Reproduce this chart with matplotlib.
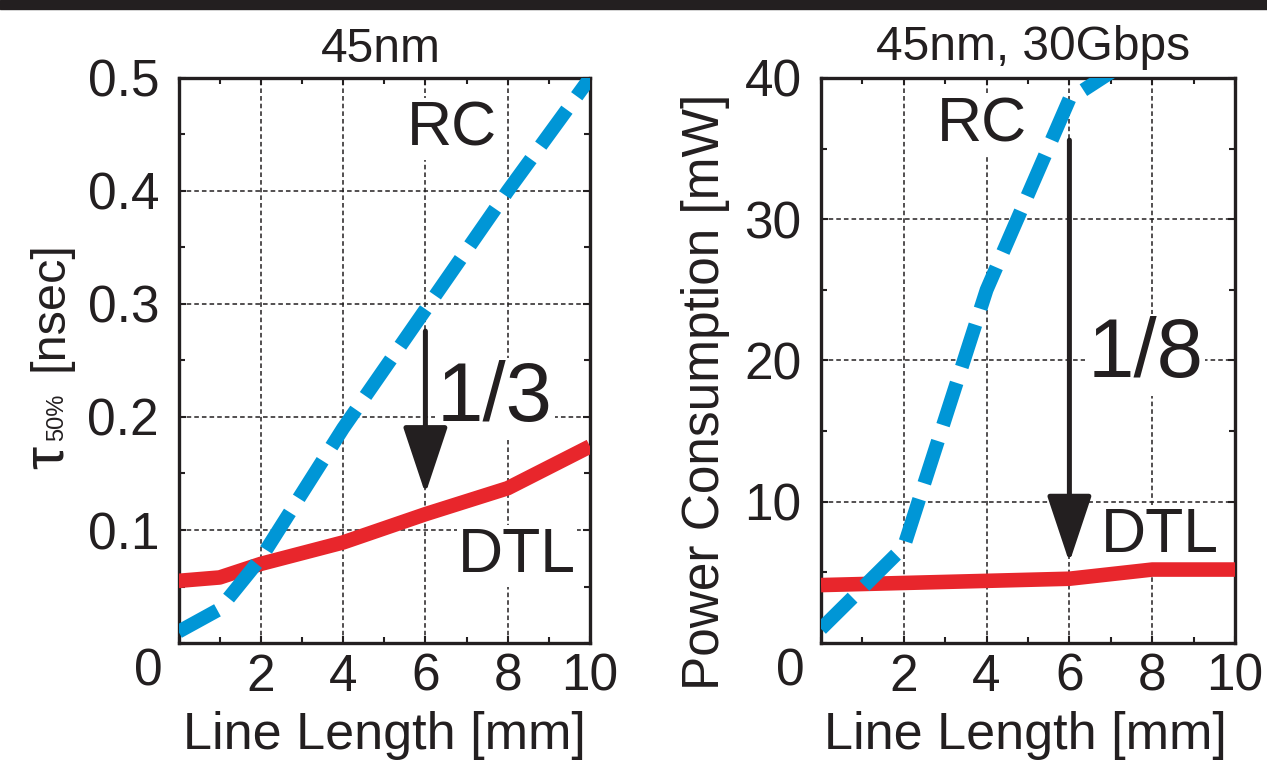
import matplotlib
matplotlib.use("Agg")
import matplotlib.pyplot as plt
from matplotlib.patches import Rectangle
from matplotlib.ticker import MultipleLocator

# ----- data -----
length = [0, 1, 2, 4, 6, 8, 10]
tau_rc = [0.01, 0.03, 0.075, 0.19, 0.295, 0.40, 0.50]
tau_dtl = [0.055, 0.058, 0.07, 0.089, 0.114, 0.137, 0.174]

p_len = [0, 2, 4, 6, 8]
power_rc = [1.0, 6.8, 25.0, 38.5, 42.3]
p_len_dtl = [0, 2, 4, 6, 8, 10]
power_dtl = [4.1, 4.25, 4.4, 4.55, 5.2, 5.2]

x_ticks = [2, 4, 6, 8, 10]
BLUE = "#0096d6"
RED = "#e8262c"
INK = "#231f20"

plt.rcParams["font.family"] = ["Liberation Sans", "DejaVu Sans"]

W, H = 1267, 772
fig = plt.figure(figsize=(W / 100, H / 100), dpi=100)
fig.patches.append(Rectangle((0, 1 - 9 / H), 1, 9 / H, transform=fig.transFigure,
                             color=INK, zorder=0))

ax1 = fig.add_axes([178.5 / W, 1 - 643 / H, 411.5 / W, 565 / H])
ax2 = fig.add_axes([821 / W, 1 - 643 / H, 414 / W, 565 / H])


def px(x, y):
    # pixel position -> figure fraction
    return x / W, 1 - y / H


def style(ax, ymax, ymajor, yminor):
    ax.set_xlim(0, 10)
    ax.set_ylim(0, ymax)
    ax.set_xticks(x_ticks)
    ax.xaxis.set_minor_locator(MultipleLocator(1))
    ax.yaxis.set_major_locator(MultipleLocator(ymajor))
    ax.yaxis.set_minor_locator(MultipleLocator(yminor))
    ax.tick_params(which="both", direction="in", top=True, right=True, colors=INK,
                   width=1.5)
    ax.tick_params(which="major", length=5, labelsize=37)
    ax.tick_params(which="minor", length=4)
    ax.tick_params(axis="y", pad=14)
    ax.tick_params(axis="x", pad=7)
    for s in ax.spines.values():
        s.set_linewidth(2.4)
        s.set_color(INK)
    ax.grid(True, which="major", color=INK, linestyle=(0, (3, 2)), linewidth=1.1)
    ax.set_axisbelow(True)
    ax.text(-0.74, -0.051, "0", transform=ax.get_xaxis_transform(), ha="center",
            va="center", fontsize=37, color=INK)


def lines(ax, x_rc, y_rc, x_dtl, y_dtl):
    ax.plot(x_dtl, y_dtl, color=RED, linewidth=10.5, solid_capstyle="butt", zorder=3)
    ax.plot(x_rc, y_rc, color=BLUE, linewidth=10, dashes=(3.2, 1.2),
            dash_capstyle="butt", zorder=4)


def label(ax, x, y, s, size):
    ax.text(x, y, s, fontsize=size, color=INK, ha="center", va="center", zorder=2,
            bbox=dict(facecolor="white", edgecolor="none", pad=1))


def arrow(ax, x, y0, y1):
    ax.annotate("", xy=(x, y1), xytext=(x, y0),
                arrowprops=dict(arrowstyle="-|>,head_length=4.2,head_width=1.4",
                                mutation_scale=10, color=INK, lw=3.6,
                                shrinkA=0, shrinkB=0), zorder=5)


# ----- left: delay -----
style(ax1, 0.5, 0.1, 0.05)
ax1.set_yticks([0.1, 0.2, 0.3, 0.4, 0.5])
ax1.set_yticklabels(["0.1", "0.2", "0.3", "0.4", "0.5"])
lines(ax1, length, tau_rc, length, tau_dtl)
label(ax1, 6.65, 0.455, "RC", 45)
label(ax1, 8.23, 0.077, "DTL", 45)
label(ax1, 7.69, 0.216, "1/3", 60)
arrow(ax1, 6, 0.276, 0.132)

# ----- right: power -----
style(ax2, 40, 10, 5)
ax2.set_yticks([10, 20, 30, 40])
lines(ax2, p_len, power_rc, p_len_dtl, power_dtl)
label(ax2, 3.89, 36.7, "RC", 45)
label(ax2, 8.19, 7.6, "DTL", 45)
label(ax2, 7.83, 20.4, "1/8", 60)
arrow(ax2, 6, 35.6, 5.7)

# ----- titles / axis labels -----
fig.text(*px(381, 50), "45nm", fontsize=34.5, color=INK, ha="center", va="center")
fig.text(*px(1033, 48), "45nm, 30Gbps", fontsize=34.5, color=INK, ha="center", va="center")
fig.text(*px(384, 735), "Line Length [mm]", fontsize=37.5, color=INK, ha="center", va="center")
fig.text(*px(1025, 735), "Line Length [mm]", fontsize=37.5, color=INK, ha="center", va="center")
fig.text(*px(705, 392), "Power Consumption [mW]", fontsize=37, color=INK,
         ha="center", va="center", rotation=90)

# left y label: big tau, small "50%", then [nsec], all on one baseline
ylab = [("\u03c4", 42, 469), ("50%", 17, 441), ("[nsec]", 35, 371)]
for s, size, y0 in ylab:
    fig.text(*px(63, y0), s, fontsize=size, color=INK, rotation=90,
             rotation_mode="anchor", ha="left", va="baseline")

fig.savefig("out.png", dpi=100)
